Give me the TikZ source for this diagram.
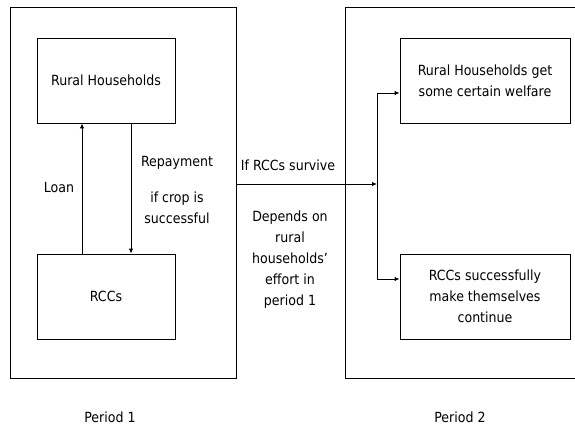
\documentclass[tikz,border=0pt]{standalone}
\usepackage{fontspec}
\setmainfont{DejaVu Sans Condensed}
\usetikzlibrary{arrows.meta}
\begin{document}
\begin{tikzpicture}[x=1pt,y=-1pt,
  every node/.style={font=\fontsize{14}{21}\selectfont, text=black},
  box/.style={draw, line width=0.9pt, minimum width=138pt, minimum height=85pt, align=center, inner sep=0pt},
  rbox/.style={box, minimum width=170pt},
  outer/.style={draw, line width=0.9pt, minimum width=226pt, minimum height=371pt, inner sep=0pt},
  lbl/.style={align=center, inner sep=0pt},
  arr/.style={line width=0.9pt, -{Latex[length=5pt,width=4.5pt]}},
  ln/.style={line width=0.9pt}]
\useasboundingbox (0,0) rectangle (575,431);
% period 1 frame
\node[outer] (p1) at (123,192.5) {};
% period 2 frame (open at the right edge)
\coordinate (p2tr) at (576,7.5);
\coordinate (p2bl) at (345,378);
\coordinate (p2br) at (576,378);
\draw[ln] (p2tr) -| (p2bl) -- (p2br);
% boxes
\node[box] (rh) at (106,80.5) {Rural Households};
\node[box] (rcc) at (106,296.5) {RCCs};
\node[rbox] (welf) at (485,80.5) {Rural Households get\\some certain welfare};
\node[rbox] (cont) at (485,296.5) {RCCs successfully\\make themselves\\continue};
% period 1 arrows
\draw[arr] ([xshift=-24pt]rcc.north) -- ([xshift=-24pt]rh.south);
\draw[arr] ([xshift=25pt]rh.south) -- ([xshift=25pt]rcc.north);
\node[lbl] (loan) at (59,187) {Loan};
\node[lbl] (rep) at (177,163) {Repayment};
\node[lbl] (crop) at (177,207.5) {if crop is\\successful};
% transition
\coordinate (j) at (377,184);
\coordinate (jt) at (377,93);
\coordinate (jb) at (377,279);
\draw[arr] (p1.east |- j) -- (j);
\draw[ln] (jt) -- (jb);
\draw[arr] (jt) -- (welf.west |- jt);
\draw[arr] (jb) -- (cont.west |- jb);
\node[lbl] (surv) at (288,165) {If RCCs survive};
\node[lbl] (dep) at (290,260) {Depends on\\rural\\households'\\effort in\\period 1};
% period labels
\node[lbl] (per1) at (110,417) {Period 1};
\node[lbl] (per2) at (460,417) {Period 2};
\end{tikzpicture}
\end{document}
